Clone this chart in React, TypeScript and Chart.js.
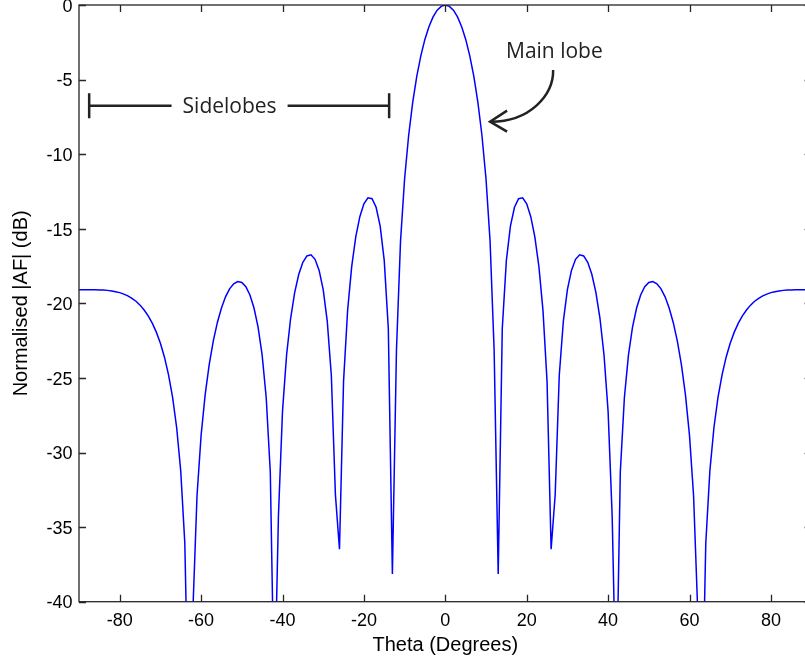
import React, { useEffect, useRef } from "react";
import { Chart, registerables } from "chart.js";

Chart.register(...registerables);

// Angle samples (degrees)
const thetaDeg = [
  -90, -89, -88, -87, -86, -85, -84, -83, -82, -81,
  -80, -79, -78, -77, -76, -75, -74, -73, -72, -71,
  -70, -69, -68, -67, -66, -65, -64, -63, -62, -61,
  -60, -59, -58, -57, -56, -55, -54, -53, -52, -51,
  -50, -49, -48, -47, -46, -45, -44, -43, -42, -41,
  -40, -39, -38, -37, -36, -35, -34, -33, -32, -31,
  -30, -29, -28, -27, -26, -25, -24, -23, -22, -21,
  -20, -19, -18, -17, -16, -15, -14, -13, -12, -11,
  -10, -9, -8, -7, -6, -5, -4, -3, -2, -1,
  0,
  1, 2, 3, 4, 5, 6, 7, 8, 9, 10,
  11, 12, 13, 14, 15, 16, 17, 18, 19, 20,
  21, 22, 23, 24, 25, 26, 27, 28, 29, 30,
  31, 32, 33, 34, 35, 36, 37, 38, 39, 40,
  41, 42, 43, 44, 45, 46, 47, 48, 49, 50,
  51, 52, 53, 54, 55, 56, 57, 58, 59, 60,
  61, 62, 63, 64, 65, 66, 67, 68, 69, 70,
  71, 72, 73, 74, 75, 76, 77, 78, 79, 80,
  81, 82, 83, 84, 85, 86, 87, 88, 89, 90,
];

// Normalised |AF| in dB
const afDb = [
  -19.08, -19.08, -19.08, -19.09, -19.09, -19.10, -19.11, -19.13, -19.17, -19.22,
  -19.28, -19.38, -19.50, -19.66, -19.86, -20.12, -20.45, -20.84, -21.33, -21.93,
  -22.68, -23.61, -24.79, -26.30, -28.34, -31.25, -36.08, -49.43, -40.46, -32.88,
  -28.85, -26.12, -24.09, -22.52, -21.28, -20.31, -19.56, -19.03, -18.69, -18.54,
  -18.60, -18.89, -19.44, -20.31, -21.59, -23.47, -26.33, -31.30, -47.02, -34.26,
  -27.24, -23.47, -21.00, -19.27, -18.05, -17.25, -16.82, -16.75, -17.05, -17.79,
  -19.08, -21.21, -24.84, -32.82, -36.48, -25.23, -20.47, -17.54, -15.54, -14.19,
  -13.33, -12.93, -12.99, -13.56, -14.82, -17.14, -21.69, -38.14, -23.15, -15.83,
  -11.65, -8.73, -6.51, -4.77, -3.39, -2.29, -1.44, -0.80, -0.35, -0.09,
  0,
  -0.09, -0.35, -0.80, -1.44, -2.29, -3.39, -4.77, -6.51, -8.73, -11.65,
  -15.83, -23.15, -38.14, -21.69, -17.14, -14.82, -13.56, -12.99, -12.93, -13.33,
  -14.19, -15.54, -17.54, -20.47, -25.23, -36.48, -32.82, -24.84, -21.21, -19.08,
  -17.79, -17.05, -16.75, -16.82, -17.25, -18.05, -19.27, -21.00, -23.47, -27.24,
  -34.26, -47.02, -31.30, -26.33, -23.47, -21.59, -20.31, -19.44, -18.89, -18.60,
  -18.54, -18.69, -19.03, -19.56, -20.31, -21.28, -22.52, -24.09, -26.12, -28.85,
  -32.88, -40.46, -49.43, -36.08, -31.25, -28.34, -26.30, -24.79, -23.61, -22.68,
  -21.93, -21.33, -20.84, -20.45, -20.12, -19.86, -19.66, -19.50, -19.38, -19.28,
  -19.22, -19.17, -19.13, -19.11, -19.10, -19.09, -19.09, -19.08, -19.08, -19.08,
];

const xTickValues = [-80, -60, -40, -20, 0, 20, 40, 60, 80];
const yTickValues = [-40, -35, -30, -25, -20, -15, -10, -5, 0];

const xAxisTitle = "Theta (Degrees)";
const yAxisTitle = "Normalised |AF| (dB)";
const sidelobeLabel = "Sidelobes";
const mainLobeLabel = "Main lobe";

// Annotation anchors in data units (degrees, dB)
const sidelobeSpan = [-87.5, -13.8];
const sidelobeLevel = -6.75;
const sidelobeTextX = -53.0;
const mainLobeTextAnchor = [26.8, -3.55];
const arrowCurve = [
  [26.5, -4.36],
  [26.6, -6.03],
  [20.8, -7.84],
  [11.0, -7.82],
];

const CANVAS_W = 830;
const CANVAS_H = 666;
const AXIS_FONT = '"Liberation Sans", Arial, sans-serif';
const NOTE_FONT = '"Open Sans", "Noto Sans", sans-serif';
const TEXT_COLOR = "#000";

const framePlugin = {
  id: "matlabFrame",
  afterDatasetsDraw(chart: any) {
    const { ctx, chartArea: a, scales } = chart;
    const xs = scales.x;
    const ys = scales.y;
    ctx.save();
    // frame
    ctx.strokeStyle = "#262626";
    ctx.lineWidth = 1.3;
    ctx.strokeRect(a.left, a.top, a.right - a.left, a.bottom - a.top);
    // inward ticks
    ctx.beginPath();
    for (const v of xTickValues) {
      const px = Math.round(xs.getPixelForValue(v)) + 0.5;
      ctx.moveTo(px, a.bottom);
      ctx.lineTo(px, a.bottom - 7);
      ctx.moveTo(px, a.top);
      ctx.lineTo(px, a.top + 7);
    }
    for (const v of yTickValues) {
      const py = Math.round(ys.getPixelForValue(v)) + 0.5;
      ctx.moveTo(a.left, py);
      ctx.lineTo(a.left + 7, py);
      ctx.moveTo(a.right, py);
      ctx.lineTo(a.right - 7, py);
    }
    ctx.stroke();

    // y tick labels
    ctx.fillStyle = TEXT_COLOR;
    ctx.font = `18px ${AXIS_FONT}`;
    ctx.textAlign = "right";
    ctx.textBaseline = "middle";
    for (const v of yTickValues) {
      ctx.fillText(String(v), a.left - 6.5, ys.getPixelForValue(v) + 1.8);
    }

    // Sidelobes bracket
    const noteColor = "#222222";
    ctx.strokeStyle = noteColor;
    ctx.fillStyle = noteColor;
    ctx.lineWidth = 2.5;
    ctx.font = `21px ${NOTE_FONT}`;
    const sx1 = xs.getPixelForValue(sidelobeSpan[0]);
    const sx2 = xs.getPixelForValue(sidelobeSpan[1]);
    const sy = ys.getPixelForValue(sidelobeLevel);
    const tx = xs.getPixelForValue(sidelobeTextX);
    const tw = ctx.measureText(sidelobeLabel).width;
    ctx.beginPath();
    ctx.moveTo(sx1, sy);
    ctx.lineTo(tx - tw / 2 - 11, sy);
    ctx.moveTo(tx + tw / 2 + 11, sy);
    ctx.lineTo(sx2, sy);
    ctx.moveTo(sx1, sy - 12.5);
    ctx.lineTo(sx1, sy + 12.5);
    ctx.moveTo(sx2, sy - 12.5);
    ctx.lineTo(sx2, sy + 12.5);
    ctx.stroke();
    ctx.textAlign = "center";
    ctx.textBaseline = "alphabetic";
    ctx.fillText(sidelobeLabel, tx, sy + 7.5);

    // Main lobe label + arrow
    ctx.fillText(
      mainLobeLabel,
      xs.getPixelForValue(mainLobeTextAnchor[0]),
      ys.getPixelForValue(mainLobeTextAnchor[1])
    );
    const p = arrowCurve.map(([x, y]) => [xs.getPixelForValue(x), ys.getPixelForValue(y)]);
    ctx.beginPath();
    ctx.moveTo(p[0][0], p[0][1]);
    ctx.bezierCurveTo(p[1][0], p[1][1], p[2][0], p[2][1], p[3][0], p[3][1]);
    ctx.stroke();
    const tip = p[3];
    ctx.beginPath();
    ctx.moveTo(tip[0] + 17, tip[1] - 11);
    ctx.lineTo(tip[0], tip[1]);
    ctx.lineTo(tip[0] + 17, tip[1] + 10);
    ctx.stroke();
    ctx.restore();
  },
};

export default function App() {
  const canvasRef = useRef<HTMLCanvasElement>(null);

  useEffect(() => {
    const canvas = canvasRef.current;
    if (!canvas) return;
    const chart = new Chart(canvas, {
      type: "line",
      data: {
        datasets: [
          {
            data: thetaDeg.map((t, i) => ({ x: t, y: afDb[i] })),
            borderColor: "rgb(0,0,255)",
            borderWidth: 1.5,
            pointRadius: 0,
            tension: 0,
            fill: false,
          },
        ],
      },
      options: {
        responsive: false,
        animation: false,
        devicePixelRatio: 1,
        layout: { padding: { top: 5, right: CANVAS_W - 811.6, left: 0, bottom: 0 } },
        plugins: {
          legend: { display: false },
          tooltip: { enabled: false },
        },
        scales: {
          x: {
            type: "linear",
            min: -90,
            max: 90,
            grid: { display: false, drawTicks: false },
            border: { display: false },
            afterBuildTicks: (s: any) => {
              s.ticks = xTickValues.map((v) => ({ value: v }));
            },
            afterFit: (s: any) => {
              s.height = CANVAS_H - 601.7;
              s.paddingLeft = 0;
              s.paddingRight = 0;
            },
            ticks: {
              color: TEXT_COLOR,
              font: { family: AXIS_FONT, size: 18 },
              padding: 8.5,
              maxRotation: 0,
              autoSkip: false,
              callback: (v: any) => String(v),
            },
            title: {
              display: true,
              text: xAxisTitle,
              color: TEXT_COLOR,
              font: { family: AXIS_FONT, size: 20 },
              padding: { top: 0, bottom: 9 },
            },
          },
          y: {
            type: "linear",
            min: -40,
            max: 0,
            grid: { display: false, drawTicks: false },
            border: { display: false },
            afterBuildTicks: (s: any) => {
              s.ticks = yTickValues.map((v) => ({ value: v }));
            },
            afterFit: (s: any) => {
              s.width = 79;
              s.paddingTop = 0;
              s.paddingBottom = 0;
            },
            ticks: {
              display: false,
              autoSkip: false,
            },
            title: {
              display: true,
              text: yAxisTitle,
              color: TEXT_COLOR,
              font: { family: AXIS_FONT, size: 20 },
              padding: { top: 9.5, bottom: 0 },
            },
          },
        },
      },
      plugins: [framePlugin],
    });
    return () => chart.destroy();
  }, []);

  return (
    <div
      style={{
        position: "fixed",
        left: 0,
        top: 0,
        width: 805,
        height: 666,
        overflow: "hidden",
        background: "#fff",
      }}
    >
      <canvas
        ref={canvasRef}
        width={CANVAS_W}
        height={CANVAS_H}
        style={{ display: "block", width: CANVAS_W, height: CANVAS_H }}
      />
    </div>
  );
}
